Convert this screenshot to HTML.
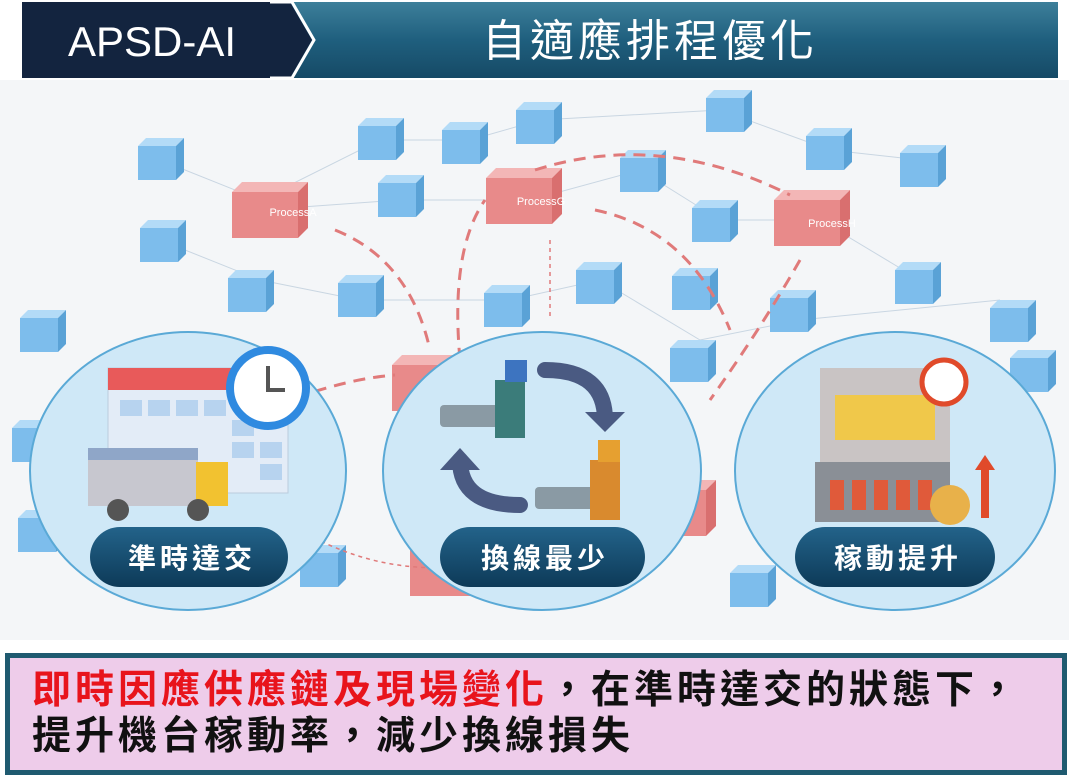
<!DOCTYPE html>
<html><head><meta charset="utf-8"><style>
body{margin:0;width:1069px;height:781px;overflow:hidden;background:#fff;font-family:"Liberation Sans","Noto Sans CJK TC",sans-serif}
</style></head><body>
<svg width="1069" height="781" viewBox="0 0 1069 781" xmlns="http://www.w3.org/2000/svg" style="position:absolute;left:0;top:0">
<defs>
<linearGradient id="hdr" x1="0" y1="0" x2="0" y2="1"><stop offset="0" stop-color="#3d7f9a"/><stop offset="0.5" stop-color="#1f5f7e"/><stop offset="1" stop-color="#164a66"/></linearGradient>
<linearGradient id="pill" x1="0" y1="0" x2="0" y2="1"><stop offset="0" stop-color="#23638a"/><stop offset="1" stop-color="#0d3a58"/></linearGradient>
<g id="cube"><rect x="0" y="8" width="38" height="34" fill="#7dbdec"/><polygon points="0,8 8,0 46,0 38,8" fill="#b3dbf7"/><polygon points="38,8 46,0 46,34 38,42" fill="#5aa2d6"/></g>
<g id="rcube"><rect x="0" y="10" width="66" height="46" fill="#e88a8a"/><polygon points="0,10 10,0 76,0 66,10" fill="#f3b6b6"/><polygon points="66,10 76,0 76,46 66,56" fill="#d96f6f"/></g>
</defs>
<rect x="0" y="80" width="1069" height="560" fill="#f4f6f8"/>
<rect x="270" y="2" width="788" height="76" fill="url(#hdr)"/>
<polygon points="22,2 290,2 312,40 290,78 22,78" fill="#13243f"/>
<polyline points="270,2 292,2 314,40 292,78 270,78" fill="none" stroke="#fff" stroke-width="3"/>
<text x="152" y="56" font-size="42" fill="#fff" text-anchor="middle" font-family="Liberation Sans,sans-serif">APSD-AI</text>
<text x="650" y="56" font-size="44" fill="#fff" text-anchor="middle" letter-spacing="4">自適應排程優化</text>
<g stroke="#c9d6e2" stroke-width="1" fill="none">
<path d="M160 160 L260 200 L380 140 L470 140 L540 120 L720 110 L830 150 L920 160"/>
<path d="M260 210 L400 200 L530 200 L640 170 L720 220 L820 220 L920 280"/>
<path d="M160 240 L260 280 L360 300 L510 300 L600 280 L700 340 L800 320 L1000 300"/>
</g>
<g>
<use href="#cube" x="138" y="138"/><use href="#cube" x="358" y="118"/><use href="#cube" x="442" y="122"/><use href="#cube" x="516" y="102"/><use href="#cube" x="706" y="90"/>
<use href="#cube" x="806" y="128"/><use href="#cube" x="900" y="145"/><use href="#cube" x="620" y="150"/><use href="#cube" x="378" y="175"/><use href="#cube" x="692" y="200"/>
<use href="#cube" x="140" y="220"/><use href="#cube" x="228" y="270"/><use href="#cube" x="338" y="275"/><use href="#cube" x="484" y="285"/><use href="#cube" x="576" y="262"/>
<use href="#cube" x="672" y="268"/><use href="#cube" x="770" y="290"/><use href="#cube" x="895" y="262"/><use href="#cube" x="990" y="300"/><use href="#cube" x="20" y="310"/>
<use href="#cube" x="1010" y="350"/><use href="#cube" x="12" y="420"/><use href="#cube" x="18" y="510"/><use href="#cube" x="670" y="340"/><use href="#cube" x="730" y="565"/><use href="#cube" x="300" y="545"/>
</g>
<use href="#rcube" x="232" y="182"/><text x="293" y="216" font-size="11" fill="#fff" text-anchor="middle">ProcessA</text>
<use href="#rcube" x="486" y="168"/><text x="541" y="205" font-size="11" fill="#fff" text-anchor="middle">ProcessG</text>
<use href="#rcube" x="774" y="190"/><text x="832" y="227" font-size="11" fill="#fff" text-anchor="middle">ProcessH</text>
<use href="#rcube" x="392" y="355"/><use href="#rcube" x="410" y="540"/><use href="#rcube" x="640" y="480"/>
<g stroke="#e07a7a" stroke-width="3" fill="none" stroke-dasharray="12 8">
<path d="M335 230 Q410 260 430 350"/>
<path d="M460 360 Q450 250 485 200"/>
<path d="M595 210 Q690 230 730 330"/>
<path d="M535 170 Q660 130 790 195"/>
<path d="M240 420 Q330 380 395 375"/>
<path d="M800 260 Q760 330 710 400"/>
</g>
<g stroke="#e07a7a" stroke-width="1.5" fill="none" stroke-dasharray="4 4"><path d="M300 530 Q420 600 560 540"/><path d="M550 240 L550 320"/></g>
<g fill="#cfe8f7" stroke="#5aa9d6" stroke-width="2">
<ellipse cx="188" cy="471" rx="158" ry="139"/>
<ellipse cx="542" cy="471" rx="159" ry="139"/>
<ellipse cx="895" cy="471" rx="160" ry="139"/>
</g>
<rect x="108" y="368" width="180" height="125" fill="#e3ecf7" stroke="#bcd" />
<rect x="108" y="368" width="180" height="22" fill="#e85a5a"/>
<g fill="#b7d3ef"><rect x="120" y="400" width="22" height="16"/><rect x="148" y="400" width="22" height="16"/><rect x="176" y="400" width="22" height="16"/><rect x="204" y="400" width="22" height="16"/><rect x="232" y="420" width="22" height="16"/><rect x="232" y="442" width="22" height="16"/><rect x="260" y="442" width="22" height="16"/><rect x="260" y="464" width="22" height="16"/></g>
<circle cx="268" cy="388" r="38" fill="#fff" stroke="#2f8ae0" stroke-width="8"/>
<path d="M268 366 L268 390 L285 390" stroke="#555" stroke-width="4" fill="none"/>
<rect x="88" y="448" width="110" height="58" fill="#c7c7cf"/><rect x="88" y="448" width="110" height="12" fill="#8fa6c8"/>
<rect x="196" y="462" width="32" height="44" fill="#f2c230"/>
<circle cx="118" cy="510" r="11" fill="#555"/><circle cx="198" cy="510" r="11" fill="#555"/>
<rect x="440" y="405" width="75" height="22" rx="4" fill="#8a9aa4"/><rect x="495" y="380" width="30" height="58" fill="#3b7c7a"/><rect x="505" y="360" width="22" height="22" fill="#3d74c0"/>
<rect x="535" y="487" width="75" height="22" rx="4" fill="#8a9aa4"/><rect x="590" y="460" width="30" height="60" fill="#d98a2e"/><rect x="598" y="440" width="22" height="22" fill="#e6a030"/>
<path d="M545 370 Q605 370 605 420" stroke="#4a5a82" stroke-width="16" fill="none" stroke-linecap="round"/><polygon points="585,412 625,412 605,432" fill="#4a5a82"/>
<path d="M520 505 Q460 505 460 460" stroke="#4a5a82" stroke-width="16" fill="none" stroke-linecap="round"/><polygon points="440,470 480,470 460,448" fill="#4a5a82"/>
<rect x="820" y="368" width="130" height="95" fill="#c9c4c4"/><rect x="835" y="395" width="100" height="45" fill="#f0c84a"/>
<rect x="815" y="462" width="135" height="60" fill="#8a8f96"/><g fill="#e05a3a"><rect x="830" y="480" width="14" height="30"/><rect x="852" y="480" width="14" height="30"/><rect x="874" y="480" width="14" height="30"/><rect x="896" y="480" width="14" height="30"/><rect x="918" y="480" width="14" height="30"/></g>
<circle cx="944" cy="382" r="22" fill="#fff" stroke="#e04a2a" stroke-width="5"/>
<circle cx="950" cy="505" r="20" fill="#e8b14a"/><polygon points="985,455 975,470 995,470" fill="#e04a2a"/><rect x="981" y="468" width="8" height="50" fill="#e04a2a"/>
<rect x="90" y="527" width="198" height="60" rx="30" fill="url(#pill)"/>
<rect x="440" y="527" width="205" height="60" rx="30" fill="url(#pill)"/>
<rect x="795" y="527" width="200" height="60" rx="30" fill="url(#pill)"/>
<g font-size="28" fill="#fff" text-anchor="middle" font-weight="bold" letter-spacing="4">
<text x="192" y="568">準時達交</text><text x="545" y="568">換線最少</text><text x="898" y="568">稼動提升</text>
</g>
<rect x="7.5" y="655.5" width="1057" height="117" fill="#eeccea" stroke="#1f5a70" stroke-width="5"/>
<text x="32" y="703" font-size="39" font-weight="bold" fill="#e8141c" letter-spacing="4">即時因應供應鏈及現場變化<tspan fill="#111">，在準時達交的狀態下，</tspan></text>
<text x="32" y="749" font-size="39" font-weight="bold" fill="#111" letter-spacing="4">提升機台稼動率，減少換線損失</text>
</svg>
</body></html>
